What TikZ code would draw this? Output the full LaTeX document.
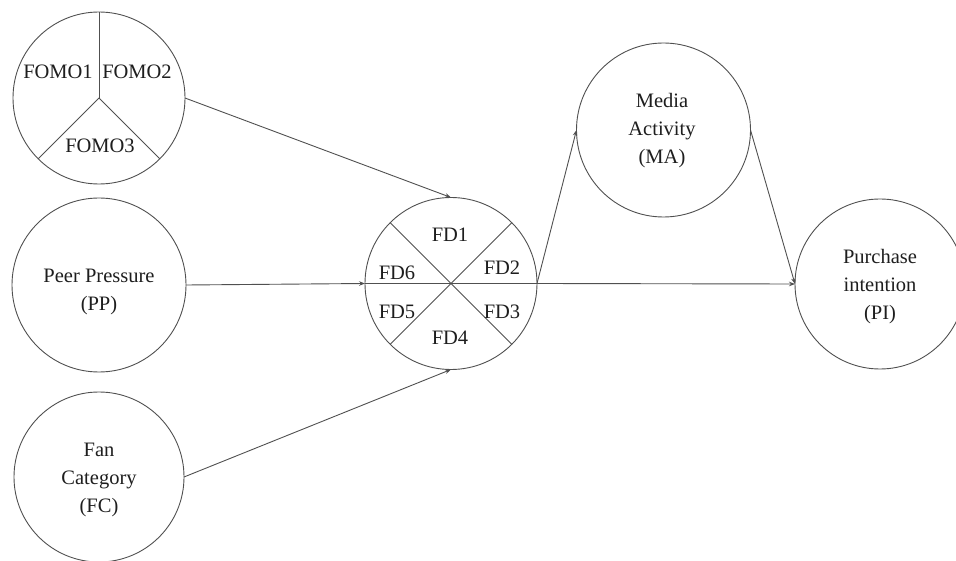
\documentclass[tikz,border=0pt]{standalone}
\usepackage{fontspec}
\setmainfont{Liberation Serif}
\usetikzlibrary{arrows.meta}
\definecolor{linegray}{HTML}{505050}
\definecolor{txt}{HTML}{1E1E1E}
\tikzset{
  circ/.style={circle, draw=linegray, line width=0.9pt, inner sep=0pt, outer sep=0pt},
  lbl/.style={text=txt, font=\fontsize{20.5}{28}\selectfont, inner sep=0pt, align=center},
  conn/.style={draw=linegray, line width=0.9pt, -{Stealth[length=6pt,width=4.5pt]}},
  divider/.style={draw=linegray, line width=0.9pt}
}
\begin{document}
\begin{tikzpicture}[x=1pt,y=-1pt]
\useasboundingbox (0,0) rectangle (956,561);
% circles
\node[circ, minimum size=172pt] (fomo) at (99,98) {};
\node[circ, minimum size=174pt] (pp) at (99,285) {};
\node[circ, minimum size=170pt] (fc) at (99,477) {};
\node[circ, minimum size=172pt] (fd) at (451,283.5) {};
\node[circ, minimum size=174pt] (ma) at (663.5,130) {};
\node[circ, minimum size=170pt] (pi) at (880,284) {};
% FOMO dividers
\draw[divider] (fomo.center) -- (fomo.north);
\draw[divider] (fomo.center) -- (fomo.225);
\draw[divider] (fomo.center) -- (fomo.315);
% FD dividers
\draw[divider] (fd.west) -- (fd.east);
\draw[divider] (fd.45) -- (fd.225);
\draw[divider] (fd.135) -- (fd.315);
% labels
\node[lbl] (f1) at (58,72) {FOMO1};
\node[lbl] (f2) at (137,72) {FOMO2};
\node[lbl] (f3) at (100,146) {FOMO3};
\node[lbl] (d1) at (450,235) {FD1};
\node[lbl] (d2) at (502,268) {FD2};
\node[lbl] (d3) at (502,312) {FD3};
\node[lbl] (d4) at (450,338) {FD4};
\node[lbl] (d5) at (397,312) {FD5};
\node[lbl] (d6) at (397,273) {FD6};
\node[lbl] (ppt) at (99,292) {Peer Pressure\\(PP)};
\node[lbl] (fct) at (99,480) {Fan\\Category\\(FC)};
\node[lbl] (mat) at (662,131) {Media\\Activity\\(MA)};
\node[lbl] (pit) at (880,287) {Purchase\\intention\\(PI)};
% connectors
\draw[conn] (fomo.east) -- (fd.north);
\draw[conn] (pp.east) -- (fd.west);
\draw[conn] (fc.east) -- (fd.south);
\draw[conn] (fd.east) -- (ma.west);
\draw[conn] (fd.east) -- (pi.west);
\draw[conn] (ma.east) -- (pi.west);
\end{tikzpicture}
\end{document}
